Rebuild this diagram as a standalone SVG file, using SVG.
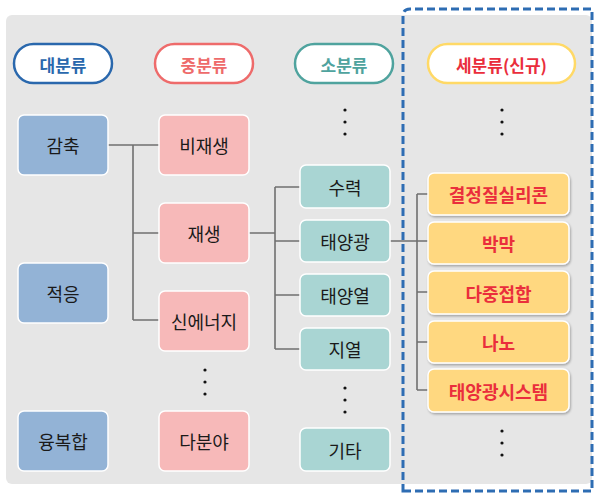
<svg xmlns="http://www.w3.org/2000/svg" width="596" height="494" viewBox="0 0 596 494">
<defs>
<filter id="sh" x="-10%" y="-20%" width="125%" height="150%">
<feDropShadow dx="1" dy="1.5" stdDeviation="1.2" flood-color="#000" flood-opacity="0.3"/>
</filter>
</defs>
<style>
text{font-family:"Noto Sans CJK KR","Noto Sans",sans-serif;text-anchor:middle;dominant-baseline:central}
.pill{fill:#fff;stroke-width:2.5}
.ptxt{font-size:17px;font-weight:bold}
.box{stroke:#fff;stroke-width:1.5}
.blue{fill:#93b3d6}
.pink{fill:#f7b9b9}
.teal{fill:#a9d5d3}
.yel{fill:#ffd880;stroke:#fff;stroke-width:1.5;filter:url(#sh)}
.btxt{font-size:18px;fill:#1a1a1a}
.ytxt{font-size:18px;font-weight:bold;fill:#ea2e3c}
.dot{fill:#111}
.conn{fill:none;stroke:#707070;stroke-width:1.6}
</style>
<rect x="6" y="15" width="586" height="469" rx="6" fill="#e6e6e6"/>
<path d="M403,491 L592,491 L592,9 L410,9 Q403,9 403,16 Z" fill="none" stroke="#2e6db3" stroke-width="3" stroke-dasharray="8,4"/>

<g id="connectors">
<path class="conn" d="M108,145 H159 M133,145 V320 M133,233 H159 M133,320 H159"/>
<path class="conn" d="M249,233 H275 M275,187 V349 M275,187 H300 M275,241 H300 M275,295 H300 M275,349 H300"/>
<path class="conn" d="M390,241 H428 M417,194 V390 M417,194 H428 M417,292 H428 M417,342 H428 M417,390 H428"/>
</g>

<g id="h-dae"><rect class="pill" x="14" y="44" width="98" height="39" rx="19.5" stroke="#2a68ad"/><text class="ptxt" x="63" y="64" fill="#2a68ad">대분류</text></g>
<g id="h-jung"><rect class="pill" x="155" y="44" width="98" height="39" rx="19.5" stroke="#ee6b6b"/><text class="ptxt" x="204" y="64" fill="#ee6b6b">중분류</text></g>
<g id="h-so"><rect class="pill" x="295" y="44" width="98" height="39" rx="19.5" stroke="#4fa39e"/><text class="ptxt" x="344" y="64" fill="#4fa39e">소분류</text></g>
<g id="h-se"><rect class="pill" x="428" y="44" width="147" height="39" rx="19.5" stroke="#ffd966"/><text class="ptxt" x="501.5" y="64" fill="#ea2e3c">세분류(신규)</text></g>

<g id="n-gamchuk"><rect class="box blue" x="18" y="115" width="90" height="60" rx="6"/><text class="btxt" x="63" y="145">감축</text></g>
<g id="n-jeogeung"><rect class="box blue" x="18" y="263" width="90" height="60" rx="6"/><text class="btxt" x="63" y="293">적응</text></g>
<g id="n-yungbokhap"><rect class="box blue" x="18" y="411" width="90" height="60" rx="6"/><text class="btxt" x="63" y="441">융복합</text></g>

<g id="n-bijaesaeng"><rect class="box pink" x="159" y="115" width="90" height="60" rx="6"/><text class="btxt" x="204" y="145">비재생</text></g>
<g id="n-jaesaeng"><rect class="box pink" x="159" y="203" width="90" height="60" rx="6"/><text class="btxt" x="204" y="233">재생</text></g>
<g id="n-sinenergy"><rect class="box pink" x="159" y="291" width="90" height="60" rx="6"/><text class="btxt" x="204" y="321">신에너지</text></g>
<g id="n-dabunya"><rect class="box pink" x="159" y="411" width="90" height="60" rx="6"/><text class="btxt" x="204" y="441">다분야</text></g>

<g id="n-suryeok"><rect class="box teal" x="300" y="165" width="90" height="43" rx="6"/><text class="btxt" x="345" y="186.5">수력</text></g>
<g id="n-taeyanggwang"><rect class="box teal" x="300" y="220" width="90" height="42" rx="6"/><text class="btxt" x="345" y="241">태양광</text></g>
<g id="n-taeyangyeol"><rect class="box teal" x="300" y="274" width="90" height="42" rx="6"/><text class="btxt" x="345" y="295">태양열</text></g>
<g id="n-jiyeol"><rect class="box teal" x="300" y="328" width="90" height="42" rx="6"/><text class="btxt" x="345" y="349">지열</text></g>
<g id="n-gita"><rect class="box teal" x="300" y="428" width="90" height="43" rx="6"/><text class="btxt" x="345" y="449.5">기타</text></g>

<g id="n-gyeoljeong"><rect class="yel" x="428" y="173" width="141" height="42" rx="6"/><text class="ytxt" x="498.5" y="194">결정질실리콘</text></g>
<g id="n-bangmak"><rect class="yel" x="428" y="222" width="141" height="42" rx="6"/><text class="ytxt" x="498.5" y="243">박막</text></g>
<g id="n-dajung"><rect class="yel" x="428" y="271" width="141" height="43" rx="6"/><text class="ytxt" x="498.5" y="292.5">다중접합</text></g>
<g id="n-nano"><rect class="yel" x="428" y="321" width="141" height="42" rx="6"/><text class="ytxt" x="498.5" y="342">나노</text></g>
<g id="n-system"><rect class="yel" x="428" y="369" width="141" height="43" rx="6"/><text class="ytxt" x="498.5" y="390.5">태양광시스템</text></g>

<g id="dots">
<circle class="dot" cx="345" cy="110" r="1.6"/><circle class="dot" cx="345" cy="122" r="1.6"/><circle class="dot" cx="345" cy="134" r="1.6"/>
<circle class="dot" cx="502" cy="110" r="1.6"/><circle class="dot" cx="502" cy="122" r="1.6"/><circle class="dot" cx="502" cy="134" r="1.6"/>
<circle class="dot" cx="205" cy="370" r="1.6"/><circle class="dot" cx="205" cy="382" r="1.6"/><circle class="dot" cx="205" cy="394" r="1.6"/>
<circle class="dot" cx="345" cy="388" r="1.6"/><circle class="dot" cx="345" cy="400" r="1.6"/><circle class="dot" cx="345" cy="412" r="1.6"/>
<circle class="dot" cx="502" cy="431" r="1.6"/><circle class="dot" cx="502" cy="443" r="1.6"/><circle class="dot" cx="502" cy="455" r="1.6"/>
</g>
</svg>
